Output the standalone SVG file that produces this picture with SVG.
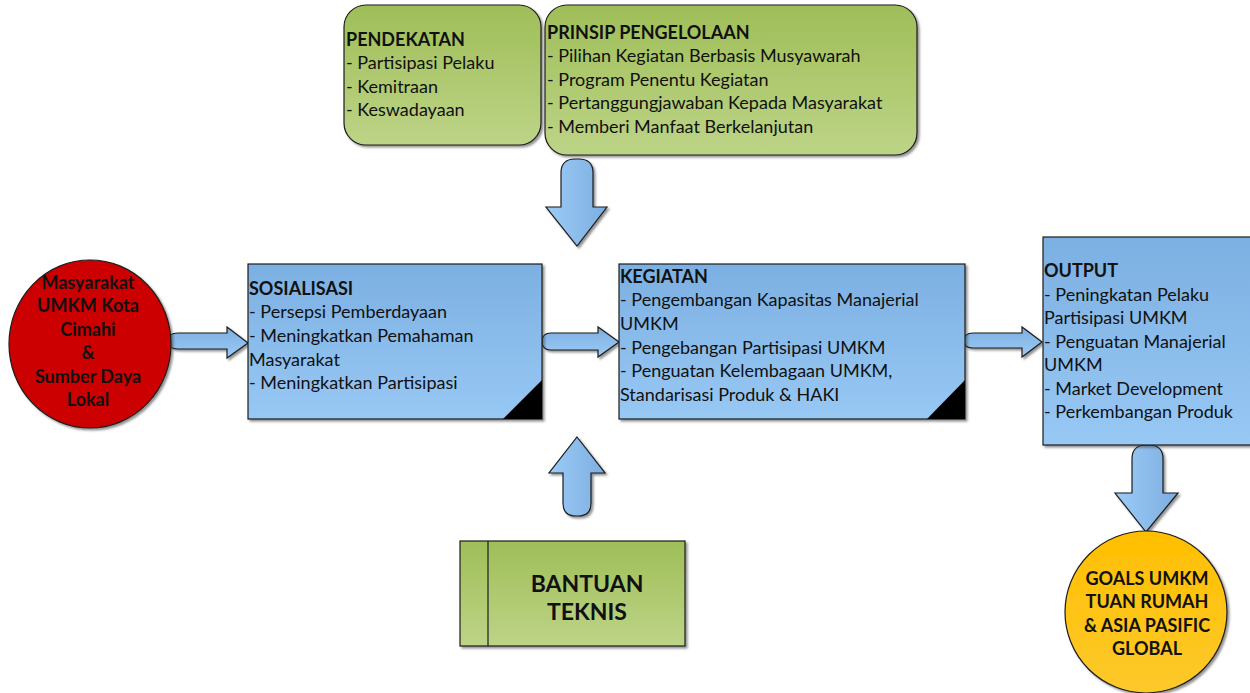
<svg xmlns="http://www.w3.org/2000/svg" width="1250" height="693" viewBox="0 0 1250 693">
  <defs>
    <linearGradient id="gGreen" x1="0" y1="0" x2="0" y2="1">
      <stop offset="0" stop-color="#9fbe58"/>
      <stop offset="1" stop-color="#bdd487"/>
    </linearGradient>
    <linearGradient id="gBlue" x1="0" y1="0" x2="0" y2="1">
      <stop offset="0" stop-color="#7cb0e2"/>
      <stop offset="1" stop-color="#98c8f4"/>
    </linearGradient>
    <linearGradient id="gArrowV" x1="0" y1="0" x2="1" y2="0">
      <stop offset="0" stop-color="#9ccbf6"/>
      <stop offset="1" stop-color="#7caee0"/>
    </linearGradient>
    <linearGradient id="gArrowH" x1="0" y1="0" x2="0" y2="1">
      <stop offset="0" stop-color="#7caee0"/>
      <stop offset="1" stop-color="#9ccbf6"/>
    </linearGradient>
    <linearGradient id="gGold" x1="0" y1="0" x2="0" y2="1">
      <stop offset="0" stop-color="#ffbf00"/>
      <stop offset="1" stop-color="#fdc92c"/>
    </linearGradient>
    <filter id="shadow" x="-10%" y="-10%" width="125%" height="125%">
      <feDropShadow dx="2" dy="2" stdDeviation="1" flood-color="#3a3a3a" flood-opacity="0.55"/>
    </filter>
  </defs>
  <style>
    .txt { font-family: Lato, "Open Sans", "Liberation Sans", sans-serif; font-size: 18px; fill: #111; }
    .hd { font-weight: bold; }
    .ctr { text-anchor: middle; font-weight: bold; }
    .big { font-size: 23px; }
    .edge { stroke: #1c1c1c; stroke-width: 1.2; }
    .green { fill: url(#gGreen); }
    .blue { fill: url(#gBlue); }
  </style>

  <rect width="1250" height="693" fill="#ffffff"/>

  <!-- connectors -->
  <g id="connectors" class="edge" filter="url(#shadow)">
    <!-- down into the centre, from the principles -->
    <path fill="url(#gArrowV)" d="M561,207 L561,173 Q561,159 575,159 L579,159 Q593,159 593,173 L593,207 L607,207 L577,246 L546,207 Z"/>
    <!-- up into the centre, from technical assistance -->
    <path fill="url(#gArrowV)" d="M577,437 L605,473 L591,473 L591,503 Q591,516 578,516 L576,516 Q563,516 563,503 L563,473 L549,473 Z"/>
    <!-- community -> socialisation -->
    <path fill="url(#gArrowH)" d="M168,341 Q168,333 178,333 L227,333 L227,327 L248,343 L227,358 L227,349 L178,349 Q168,349 168,341 Z"/>
    <!-- socialisation -> activities -->
    <path fill="url(#gArrowH)" d="M542,341.5 Q542,333 551,333 L598,333 L598,327 L619,342 L598,357 L598,350 L551,350 Q542,350 542,341.5 Z"/>
    <!-- activities -> output -->
    <path fill="url(#gArrowH)" d="M964,340.5 Q964,333 973,333 L1022,333 L1022,327 L1042,342 L1022,357 L1022,348 L973,348 Q964,348 964,340.5 Z"/>
    <!-- output -> goals -->
    <path fill="url(#gArrowV)" d="M1132,493 L1132,459 Q1132,445 1146,445 L1149,445 Q1163,445 1163,459 L1163,493 L1178,493 L1146,532 L1115,493 Z"/>
  </g>

  <!-- approach -->
  <g id="pendekatan">
    <rect class="green edge" x="344" y="5" width="197" height="140" rx="22" filter="url(#shadow)"/>
    <text class="txt hd" x="346" y="46">PENDEKATAN</text>
    <text class="txt" x="346" y="69">- Partisipasi Pelaku</text>
    <text class="txt" x="346" y="93">- Kemitraan</text>
    <text class="txt" x="346" y="116">- Keswadayaan</text>
  </g>

  <!-- management principles -->
  <g id="prinsip">
    <rect class="green edge" x="545" y="5" width="372" height="150" rx="22" filter="url(#shadow)"/>
    <text class="txt hd" x="547" y="39">PRINSIP PENGELOLAAN</text>
    <text class="txt" x="547" y="62">- Pilihan Kegiatan Berbasis Musyawarah</text>
    <text class="txt" x="547" y="86">- Program Penentu Kegiatan</text>
    <text class="txt" x="547" y="109">- Pertanggungjawaban Kepada Masyarakat</text>
    <text class="txt" x="547" y="133">- Memberi Manfaat Berkelanjutan</text>
  </g>

  <!-- community & local resources -->
  <g id="masyarakat">
    <ellipse class="edge" cx="90" cy="344" rx="81" ry="84" fill="#cc0000" filter="url(#shadow)"/>
    <text class="txt ctr" x="88" y="289">Masyarakat</text>
    <text class="txt ctr" x="88" y="312">UMKM Kota</text>
    <text class="txt ctr" x="88" y="336">Cimahi</text>
    <text class="txt ctr" x="88" y="359">&amp;</text>
    <text class="txt ctr" x="88" y="383">Sumber Daya</text>
    <text class="txt ctr" x="88" y="406">Lokal</text>
  </g>

  <!-- socialisation -->
  <g id="sosialisasi">
    <rect class="blue edge" x="248" y="264" width="294" height="155" filter="url(#shadow)"/>
    <path d="M503,419 L542,380 L542,419 Z" fill="#000"/>
    <text class="txt hd" x="249" y="295">SOSIALISASI</text>
    <text class="txt" x="249" y="318">- Persepsi Pemberdayaan</text>
    <text class="txt" x="249" y="342">- Meningkatkan Pemahaman</text>
    <text class="txt" x="249" y="366">Masyarakat</text>
    <text class="txt" x="249" y="389">- Meningkatkan Partisipasi</text>
  </g>

  <!-- activities -->
  <g id="kegiatan">
    <rect class="blue edge" x="619" y="264" width="346" height="155" filter="url(#shadow)"/>
    <path d="M927,419 L965,380 L965,419 Z" fill="#000"/>
    <text class="txt hd" x="620" y="283">KEGIATAN</text>
    <text class="txt" x="620" y="306">- Pengembangan Kapasitas Manajerial</text>
    <text class="txt" x="620" y="330">UMKM</text>
    <text class="txt" x="620" y="354">- Pengebangan Partisipasi UMKM</text>
    <text class="txt" x="620" y="377">- Penguatan Kelembagaan UMKM,</text>
    <text class="txt" x="620" y="401">Standarisasi Produk &amp; HAKI</text>
  </g>

  <!-- output -->
  <g id="output">
    <rect class="blue edge" x="1043" y="237" width="215" height="208" filter="url(#shadow)"/>
    <text class="txt hd" x="1044" y="277">OUTPUT</text>
    <text class="txt" x="1044" y="301">- Peningkatan Pelaku</text>
    <text class="txt" x="1044" y="324">Partisipasi UMKM</text>
    <text class="txt" x="1044" y="348">- Penguatan Manajerial</text>
    <text class="txt" x="1044" y="371">UMKM</text>
    <text class="txt" x="1044" y="395">- Market Development</text>
    <text class="txt" x="1044" y="418">- Perkembangan Produk</text>
  </g>

  <!-- goals -->
  <g id="goals">
    <circle class="edge" cx="1146" cy="612" r="81" fill="url(#gGold)" filter="url(#shadow)"/>
    <text class="txt ctr" x="1147" y="585">GOALS UMKM</text>
    <text class="txt ctr" x="1147" y="608">TUAN RUMAH</text>
    <text class="txt ctr" x="1147" y="632">&amp; ASIA PASIFIC</text>
    <text class="txt ctr" x="1147" y="655">GLOBAL</text>
  </g>

  <!-- technical assistance -->
  <g id="bantuan-teknis">
    <rect class="green edge" x="460" y="541" width="225" height="105" filter="url(#shadow)"/>
    <line class="edge" x1="488" y1="541" x2="488" y2="646"/>
    <text class="txt ctr big" x="587" y="592">BANTUAN</text>
    <text class="txt ctr big" x="587" y="620">TEKNIS</text>
  </g>
</svg>
